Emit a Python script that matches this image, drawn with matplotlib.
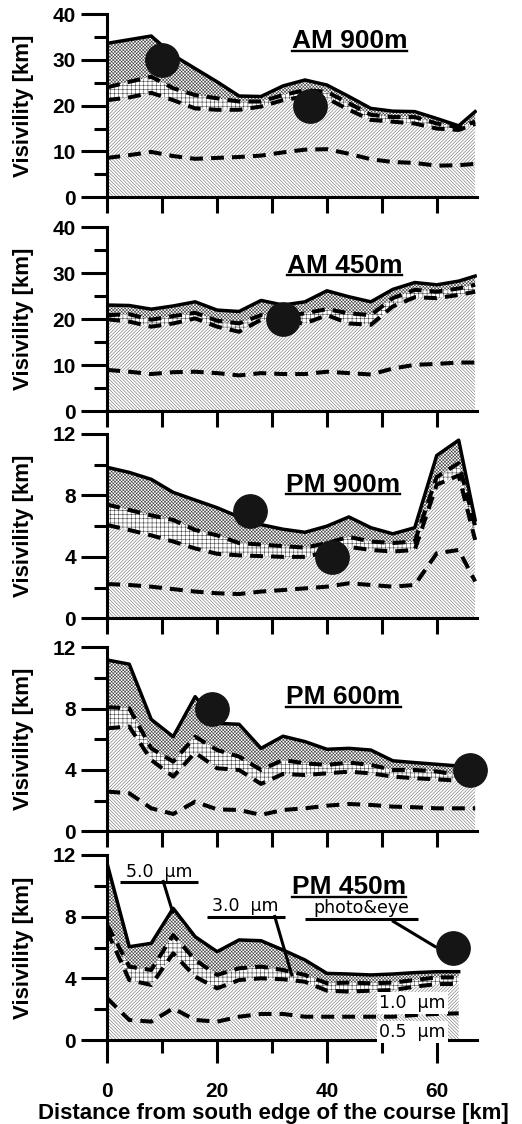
import matplotlib
matplotlib.use("Agg")
import matplotlib.pyplot as plt
from matplotlib.lines import Line2D
from matplotlib.ticker import MultipleLocator

plt.rcParams["font.family"] = ["Liberation Sans", "DejaVu Sans"]
plt.rcParams["hatch.linewidth"] = 0.4

# ── Data ────────────────────────────────────────────────────────────────────
# distance along the course [km]
x_long = [0, 4, 8, 12, 16, 20, 24, 28, 32, 36, 40, 44, 48, 52, 56, 60, 64, 67]
x_short = [0, 4, 8, 12, 16, 20, 24, 28, 32, 36, 40, 44, 48, 52, 56, 60, 64]

# visibility [km] per particle size threshold
am900_5p0 = [33.6, 34.4, 35.2, 31.0, 28.1, 25.2, 22.1, 22.0, 24.3, 25.6, 24.5, 22.0, 19.4, 18.8, 18.7, 17.2, 15.6, 18.7]
am900_3p0 = [24.0, 25.2, 26.3, 23.8, 22.3, 21.6, 20.9, 20.9, 22.3, 23.4, 23.0, 20.5, 18.0, 17.5, 17.5, 16.1, 15.3, 16.5]
am900_1p0 = [21.2, 21.8, 22.8, 21.2, 19.4, 19.1, 19.1, 19.8, 21.2, 22.0, 21.6, 19.1, 16.9, 16.5, 16.1, 15.0, 14.7, 16.0]
am900_0p5 = [8.6, 9.2, 9.9, 9.0, 8.4, 8.6, 8.8, 9.1, 9.8, 10.4, 10.5, 9.5, 8.3, 7.7, 7.5, 6.9, 7.0, 7.3]

am450_5p0 = [23.1, 23.0, 22.2, 22.9, 23.8, 22.0, 21.7, 24.1, 23.1, 23.8, 26.2, 24.9, 23.8, 26.5, 28.0, 27.5, 28.3, 29.4]
am450_3p0 = [20.9, 21.1, 19.9, 20.7, 21.4, 19.7, 19.1, 20.9, 20.6, 21.3, 22.2, 21.3, 20.9, 24.6, 26.4, 26.0, 26.7, 27.5]
am450_1p0 = [20.0, 19.5, 18.4, 19.1, 20.2, 18.4, 17.3, 19.9, 19.5, 19.1, 20.9, 19.1, 18.8, 22.8, 24.8, 24.6, 25.3, 26.0]
am450_0p5 = [9.0, 8.6, 8.1, 8.5, 8.6, 8.3, 7.8, 8.3, 8.1, 8.1, 8.6, 8.3, 8.0, 9.3, 10.1, 10.3, 10.6, 10.6]

pm900_5p0 = [9.83, 9.5, 9.05, 8.2, 7.7, 7.2, 6.6, 6.1, 5.8, 5.6, 6.0, 6.6, 5.9, 5.5, 5.9, 10.6, 11.6, 6.4]
pm900_3p0 = [7.4, 7.05, 6.7, 6.4, 5.75, 5.4, 4.9, 4.8, 4.7, 4.6, 4.9, 5.3, 5.0, 4.9, 5.0, 9.2, 10.1, 6.0]
pm900_1p0 = [6.07, 5.75, 5.4, 5.0, 4.55, 4.2, 4.1, 4.05, 4.0, 4.0, 4.3, 4.65, 4.45, 4.35, 4.45, 8.7, 9.3, 5.1]
pm900_0p5 = [2.23, 2.17, 2.06, 1.9, 1.74, 1.63, 1.58, 1.74, 1.84, 1.95, 2.06, 2.28, 2.17, 2.06, 2.17, 4.23, 4.45, 2.4]

pm600_5p0 = [11.17, 10.9, 7.3, 6.17, 8.78, 7.04, 6.98, 5.41, 6.2, 5.85, 5.35, 5.41, 5.3, 4.6, 4.48, 4.37, 4.26, 4.2]
pm600_3p0 = [8.09, 8.02, 5.41, 4.54, 6.17, 5.3, 4.87, 4.0, 4.65, 4.43, 4.33, 4.48, 4.33, 4.0, 4.0, 3.9, 3.67, 3.8]
pm600_1p0 = [6.72, 6.83, 4.65, 3.57, 5.13, 4.11, 4.0, 3.09, 3.74, 3.67, 3.78, 3.89, 3.78, 3.57, 3.46, 3.39, 3.3, 3.35]
pm600_0p5 = [2.59, 2.48, 1.5, 1.13, 1.93, 1.43, 1.39, 1.07, 1.39, 1.5, 1.67, 1.78, 1.72, 1.61, 1.57, 1.5, 1.5, 1.5]

pm450_5p0 = [11.4, 6.05, 6.27, 8.54, 6.7, 5.73, 6.49, 6.44, 5.84, 5.19, 4.32, 4.28, 4.22, 4.28, 4.37, 4.43, 4.43]
pm450_3p0 = [7.46, 4.76, 4.54, 6.81, 5.19, 4.22, 4.65, 4.76, 4.54, 4.22, 3.68, 3.72, 3.68, 3.72, 3.89, 4.06, 4.06]
pm450_1p0 = [7.03, 3.89, 3.57, 5.62, 4.11, 3.35, 3.89, 4.0, 3.94, 3.78, 3.2, 3.14, 3.2, 3.24, 3.46, 3.63, 3.63]
pm450_0p5 = [2.7, 1.3, 1.19, 2.05, 1.3, 1.19, 1.51, 1.69, 1.69, 1.51, 1.51, 1.51, 1.51, 1.51, 1.62, 1.69, 1.73]

# photo & eye observations (x km, visibility km)
am900_eye_x, am900_eye_y = [10, 37], [30, 20]
am450_eye_x, am450_eye_y = [32], [20]
pm900_eye_x, pm900_eye_y = [26, 41], [7, 4]
pm600_eye_x, pm600_eye_y = [19, 66], [8, 4]
pm450_eye_x, pm450_eye_y = [63], [6]

titles = ["AM 900m", "AM 450m", "PM 900m", "PM 600m", "PM 450m"]
y_max = [40, 40, 12, 12, 12]

panels = [
    (x_long, am900_5p0, am900_3p0, am900_1p0, am900_0p5, am900_eye_x, am900_eye_y),
    (x_long, am450_5p0, am450_3p0, am450_1p0, am450_0p5, am450_eye_x, am450_eye_y),
    (x_long, pm900_5p0, pm900_3p0, pm900_1p0, pm900_0p5, pm900_eye_x, pm900_eye_y),
    (x_long, pm600_5p0, pm600_3p0, pm600_1p0, pm600_0p5, pm600_eye_x, pm600_eye_y),
    (x_short, pm450_5p0, pm450_3p0, pm450_1p0, pm450_0p5, pm450_eye_x, pm450_eye_y),
]

# ── Layout (pixels of the 522x1124 canvas) ──────────────────────────────────
W_PX, H_PX = 522, 1124
LEFT_PX, RIGHT_PX = 107.3, 476.8
X_MAX = 67.3
panel_px = [(14, 197.3), (227.3, 411.3), (434, 618.3), (647.3, 831.3), (855, 1040)]
title_pos = [(44.1, 34.0), (43.2, 31.6), (43.0, 8.7), (43.0, 8.75), (44.0, 9.9)]

DIAG_EC = "#6a6a6a"   # light diagonal hatching
GRID_EC = "#4a4a4a"
CHECK_EC = "#3a3a3a"

fig = plt.figure(figsize=(W_PX / 100, H_PX / 100), dpi=100)
axes = []
title_texts = []

for i, (x, s5, s3, s1, s05, ex, ey) in enumerate(panels):
    top, bot = panel_px[i]
    ax = fig.add_axes([LEFT_PX / W_PX, 1 - bot / H_PX,
                       (RIGHT_PX - LEFT_PX) / W_PX, (bot - top) / H_PX])
    axes.append(ax)

    # hatched bands between particle-size curves
    ax.fill_between(x, 0, s05, facecolor="white", edgecolor=DIAG_EC, lw=0, hatch="\\" * 10)
    ax.fill_between(x, s05, s1, facecolor="white", edgecolor=DIAG_EC, lw=0, hatch="/" * 10)
    ax.fill_between(x, s1, s3, facecolor="white", edgecolor=GRID_EC, lw=0, hatch="+" * 4)
    ax.fill_between(x, s3, s5, facecolor="white", edgecolor=CHECK_EC, lw=0, hatch="x" * 10)

    ax.plot(x, s5, "-", color="black", lw=2.5, zorder=3)
    for s in (s3, s1, s05):
        ax.plot(x, s, color="black", lw=2.9, dashes=(3.2, 2.0),
                dash_capstyle="butt", zorder=3)

    ax.plot(ex, ey, "o", color="#151515", ms=24, clip_on=False, zorder=5)

    ax.set_xlim(0, X_MAX)
    ax.set_ylim(0, y_max[i])
    for side in ("top", "right"):
        ax.spines[side].set_visible(False)
    for side in ("left", "bottom"):
        ax.spines[side].set_linewidth(2.2)

    step = 10 if y_max[i] == 40 else 4
    ax.yaxis.set_major_locator(MultipleLocator(step))
    ax.yaxis.set_minor_locator(MultipleLocator(step / 2))
    ax.xaxis.set_major_locator(MultipleLocator(20))
    ax.xaxis.set_minor_locator(MultipleLocator(10))
    ax.tick_params(axis="y", which="major", direction="out", length=18.7, width=2.2,
                   pad=4, labelsize=15)
    ax.tick_params(axis="y", which="minor", direction="out", length=9.4, width=2.2)
    if i < 4:
        ax.tick_params(axis="x", which="both", direction="out", length=11.5, width=2.2,
                       labelbottom=False)
    else:
        ax.tick_params(axis="x", which="major", direction="out", length=16.5, width=2.2,
                       pad=13.5, labelsize=15)
        ax.tick_params(axis="x", which="minor", direction="out", length=9.4, width=2.2)
    for lab in ax.get_xticklabels() + ax.get_yticklabels():
        lab.set_fontweight("bold")

    tx, ty = title_pos[i]
    t = ax.text(tx, ty, titles[i], ha="center", va="center", fontsize=19,
                fontweight="bold", zorder=6)
    title_texts.append(t)

    fig.text(23 / W_PX, 1 - (top + bot) / 2 / H_PX, "Visivility [km]", rotation=90,
             ha="center", va="center", fontsize=16, fontweight="bold")

fig.text(273.5 / W_PX, 1 - 1119 / H_PX, "Distance from south edge of the course [km]",
         ha="center", va="baseline", fontsize=16, fontweight="bold")

# ── Callouts in the PM 450m panel ──────────────────────────────────────────
ax = axes[4]
callout_text = ["5.0  µm", "3.0  µm", "photo&eye"]
callout_xy = [(9.4, 10.6), (25.1, 8.38), (46.3, 8.23)]
callout_bar = [(2.3, 16.5, 10.28), (18.2, 32.3, 8.01), (36.0, 56.6, 7.83)]
callout_tip = [((10.2, 10.28), (11.9, 8.3)), ((30.5, 8.01), (33.6, 4.22)),
               ((52.1, 7.69), (59.7, 6.06))]
for txt, (cx, cy), (b0, b1, by), (p0, p1) in zip(callout_text, callout_xy,
                                                  callout_bar, callout_tip):
    ax.text(cx, cy, txt, ha="center", va="baseline", fontsize=12.5,
            family="DejaVu Sans", zorder=6)
    ax.plot([b0, b1], [by, by], color="black", lw=2.2, solid_capstyle="butt", zorder=6)
    ax.plot([p0[0], p1[0]], [p0[1], p1[1]], color="black", lw=2.2, zorder=6)

for txt, cy in (("1.0  µm", 2.06), ("0.5  µm", 0.22)):
    ax.text(55.6, cy, txt, ha="center", va="baseline", fontsize=12.5,
            family="DejaVu Sans", zorder=6,
            bbox=dict(facecolor="white", edgecolor="none", pad=1.5))

# ── Underline the panel titles ─────────────────────────────────────────────
fig.canvas.draw()
inv = fig.transFigure.inverted()
for t in title_texts:
    bb = t.get_window_extent()
    (x0, y0), (x1, _) = inv.transform([(bb.x0, bb.y0 + 2.5), (bb.x1, bb.y0)])
    fig.add_artist(Line2D([x0, x1], [y0, y0], color="black", lw=1.7,
                          transform=fig.transFigure))

fig.savefig("out.png", dpi=100)
